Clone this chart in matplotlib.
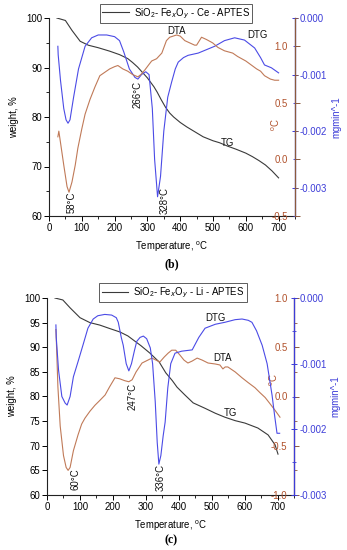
import matplotlib
matplotlib.use("Agg")
import matplotlib.pyplot as plt
from matplotlib.ticker import MultipleLocator

# ---------------- data: panel (b) ----------------
b_tg_T = [24, 50, 70, 95, 120, 150, 185, 215, 240, 255, 270, 285, 300, 310, 320, 330, 342, 355, 368, 380, 400, 420, 445, 470, 500, 520, 545, 570, 600, 620, 640, 660, 680, 700]
b_tg_w = [100, 99.5, 97.5, 95.3, 94.5, 94.0, 93.3, 92.6, 91.8, 91.0, 90.1, 89.0, 87.9, 87.0, 86.1, 85.0, 83.5, 82.0, 80.8, 80.0, 78.9, 78.0, 77.0, 76.0, 75.2, 74.8, 74.1, 73.5, 72.7, 72.0, 71.2, 70.3, 69.1, 67.7]
b_dtg_T = [27, 28, 35, 45, 52, 58, 64, 75, 90, 110, 130, 150, 176, 200, 215, 228, 245, 262, 271, 282, 295, 305, 315, 322, 331, 340, 350, 362, 374, 385, 394, 410, 424, 455, 480, 505, 535, 566, 596, 627, 645, 657, 678, 700]
b_dtg_g = [-0.0005, -0.00065, -0.0011, -0.0016, -0.0018, -0.00186, -0.0018, -0.0014, -0.0009, -0.0005, -0.00035, -0.0003, -0.0003, -0.00033, -0.0004, -0.0006, -0.0009, -0.00105, -0.00108, -0.001, -0.00095, -0.001, -0.0016, -0.0025, -0.00316, -0.0028, -0.002, -0.0014, -0.00113, -0.0009, -0.00078, -0.0007, -0.00066, -0.00062, -0.00056, -0.0005, -0.0004, -0.00035, -0.00039, -0.00053, -0.0007, -0.00083, -0.00088, -0.00097]
b_dta_T = [27, 30, 35, 45, 55, 61, 70, 80, 88, 100, 110, 125, 140, 155, 170, 185, 200, 210, 225, 240, 255, 271, 280, 292, 305, 313, 328, 344, 358, 368, 389, 400, 414, 429, 444, 450, 465, 480, 499, 515, 535, 560, 575, 600, 633, 645, 657, 675, 688, 700]
b_dta_d = [0.2, 0.25, 0.15, -0.05, -0.24, -0.29, -0.2, -0.05, 0.1, 0.27, 0.4, 0.53, 0.64, 0.74, 0.77, 0.80, 0.82, 0.83, 0.80, 0.78, 0.75, 0.73, 0.75, 0.79, 0.84, 0.87, 0.89, 0.94, 1.05, 1.08, 1.10, 1.09, 1.05, 1.03, 1.01, 1.01, 1.08, 1.06, 1.03, 0.99, 0.96, 0.94, 0.91, 0.87, 0.80, 0.78, 0.74, 0.71, 0.70, 0.70]

# ---------------- data: panel (c) ----------------
c_tg_T = [24, 48, 70, 100, 130, 160, 190, 221, 245, 261, 285, 312, 340, 360, 380, 394, 418, 443, 479, 510, 539, 570, 600, 639, 670, 691, 700]
c_tg_w = [100, 99.6, 98.0, 96.0, 95.0, 94.5, 93.8, 93.1, 92.3, 91.5, 90.3, 88.8, 87.0, 84.8, 83.2, 81.9, 80.3, 78.7, 77.6, 76.6, 75.8, 75.1, 74.6, 73.6, 72.2, 70.2, 68.3]
c_dtg_T = [27, 28, 35, 45, 55, 61, 70, 80, 94, 110, 124, 140, 154, 175, 196, 210, 216, 225, 231, 240, 248, 256, 265, 272, 282, 292, 302, 313, 320, 328, 334, 339, 345, 352, 358, 366, 375, 388, 408, 440, 460, 479, 510, 539, 570, 591, 610, 621, 635, 652, 667, 682, 690, 697, 705]
c_dtg_g = [-0.00041, -0.0006, -0.0011, -0.0015, -0.0016, -0.00163, -0.0015, -0.0012, -0.00097, -0.0007, -0.00046, -0.00032, -0.00027, -0.00025, -0.00026, -0.0003, -0.00037, -0.0006, -0.00072, -0.001, -0.00111, -0.001, -0.0008, -0.00066, -0.0006, -0.00058, -0.00062, -0.00076, -0.001, -0.00158, -0.0022, -0.00253, -0.0024, -0.0021, -0.00189, -0.00137, -0.001, -0.00084, -0.00081, -0.00079, -0.0006, -0.00046, -0.0004, -0.00037, -0.00033, -0.00032, -0.00034, -0.00037, -0.0005, -0.00072, -0.001, -0.00148, -0.0018, -0.00206, -0.00206]
c_dta_T = [27, 29, 33, 40, 50, 58, 64, 70, 80, 94, 105, 115, 130, 145, 160, 176, 190, 206, 220, 236, 248, 258, 270, 288, 300, 318, 330, 342, 355, 367, 378, 390, 403, 415, 427, 440, 455, 470, 488, 510, 524, 533, 540, 548, 570, 591, 610, 630, 645, 661, 675, 691, 706]
c_dta_d = [0.68, 0.5, 0.1, -0.3, -0.6, -0.72, -0.75, -0.72, -0.55, -0.39, -0.28, -0.22, -0.15, -0.09, -0.04, 0.015, 0.1, 0.19, 0.18, 0.16, 0.15, 0.17, 0.25, 0.34, 0.36, 0.39, 0.37, 0.35, 0.40, 0.44, 0.47, 0.47, 0.42, 0.37, 0.34, 0.36, 0.39, 0.37, 0.34, 0.33, 0.32, 0.28, 0.30, 0.30, 0.25, 0.19, 0.14, 0.09, 0.04, -0.01, -0.07, -0.14, -0.21]

TG_C = "#3a3a3a"
DTA_C = "#c07a58"
DTA_AX = "#8b5a3c"
DTA_TXT = "#b0502a"
DTG_C = "#4b4be6"
DTG_AX = "#3c3cd8"
FS = 6.9

plt.rcParams['font.family'] = ['Liberation Sans', 'DejaVu Sans']
plt.rcParams['mathtext.fontset'] = 'custom'
plt.rcParams['mathtext.rm'] = 'Liberation Sans'

fig = plt.figure(figsize=(3.47, 5.5), dpi=100)


def panel(rect, tgT, tgW, dtaT, dtaD, dtgT, dtgG, legend_text, left_major, left_minor,
          dta_lim, dtg_lim, dtg_minor, top_spine_col, caption, cap_y, leg_x, leg_y,
          degc_xy, labels, peaks):
    ax = fig.add_axes(rect)
    ax_dta = ax.twinx()
    ax_dtg = ax.twinx()

    ln, = ax.plot(tgT, tgW, color=TG_C, lw=0.8)
    ax_dta.plot(dtaT, dtaD, color=DTA_C, lw=0.8)
    ax_dtg.plot(dtgT, dtgG, color=DTG_C, lw=0.8)

    ax.set_xlim(0, 750)
    ax.set_ylim(60, 100)
    ax.xaxis.set_major_locator(MultipleLocator(100))
    ax.xaxis.set_minor_locator(MultipleLocator(50))
    ax.yaxis.set_major_locator(MultipleLocator(left_major))
    if left_minor:
        ax.yaxis.set_minor_locator(MultipleLocator(left_minor))
    ax.tick_params(axis='both', which='major', direction='out', length=3.5, width=0.7,
                   labelsize=FS, pad=1.5)
    ax.tick_params(axis='both', which='minor', direction='out', length=2, width=0.6)
    ax.spines['top'].set_visible(False)
    ax.spines['right'].set_visible(False)
    for s in ('left', 'bottom'):
        ax.spines[s].set_linewidth(0.8)
        ax.spines[s].set_color('#222222')
    ax.set_xlabel("Temperature, $^{\\rm o}$C", fontsize=FS, labelpad=5)
    ax.set_ylabel("weight, %", fontsize=FS, labelpad=5)

    # DTA axis: spine at right, ticks inward-facing from a "left" spine placed at x=1
    ax_dta.set_ylim(*dta_lim)
    ax_dta.yaxis.set_major_locator(MultipleLocator(0.5))
    ax_dta.yaxis.set_minor_locator(MultipleLocator(0.25))
    ax_dta.spines['left'].set_position(('axes', 1.0))
    ax_dta.yaxis.set_ticks_position('left')
    ax_dta.yaxis.set_label_position('left')
    for s in ('top', 'bottom', 'right'):
        ax_dta.spines[s].set_visible(False)
    ax_dta.spines['left'].set_color(DTA_AX)
    ax_dta.spines['left'].set_linewidth(0.9)
    ax_dta.tick_params(axis='y', which='major', direction='in', length=3.5, width=0.7,
                       colors=DTA_AX, labelcolor=DTA_TXT, labelsize=FS, pad=5)
    ax_dta.tick_params(axis='y', which='minor', direction='in', length=2, width=0.6,
                       colors=DTA_AX)
    ax_dta.yaxis.set_major_formatter(matplotlib.ticker.FormatStrFormatter('%.1f'))
    ax_dta.set_ylabel("$^{\\rm o}$C", fontsize=FS, color=DTA_TXT)
    ax_dta.yaxis.set_label_coords(*degc_xy)

    # DTG axis
    ax_dtg.set_ylim(*dtg_lim)
    ax_dtg.yaxis.set_major_locator(MultipleLocator(0.001))
    ax_dtg.yaxis.set_minor_locator(MultipleLocator(dtg_minor))
    for s in ('top', 'bottom', 'left'):
        ax_dtg.spines[s].set_visible(False)
    ax_dtg.spines['right'].set_color(DTG_AX)
    ax_dtg.spines['right'].set_linewidth(0.9)
    ax_dtg.tick_params(axis='y', which='major', direction='inout', length=5, width=0.7,
                       colors=DTG_AX, labelcolor=DTG_AX, labelsize=FS, pad=1)
    ax_dtg.tick_params(axis='y', which='minor', direction='inout', length=3, width=0.6,
                       colors=DTG_AX)
    ax_dtg.yaxis.set_major_formatter(matplotlib.ticker.FormatStrFormatter('%.3f'))
    ax_dtg.set_ylabel("mgmin^-1", fontsize=FS, color=DTG_AX, labelpad=3)
    if top_spine_col == 'dta':
        ax_dta.set_zorder(ax_dtg.get_zorder() + 1)
        ax_dta.patch.set_visible(False)

    leg = ax.legend([ln], [legend_text], loc='upper center', bbox_to_anchor=(leg_x, leg_y),
                    fontsize=FS, frameon=True, fancybox=False, handlelength=2.8,
                    borderpad=0.25, handletextpad=0.5, borderaxespad=0)
    leg.get_frame().set_edgecolor('#333333')
    leg.get_frame().set_linewidth(0.7)

    for (tx, ty, s) in labels:
        ax.text(tx, ty, s, fontsize=FS, color='#111111', ha='center', va='center')
    for (tx, ty, s) in peaks:
        ax.text(tx, ty, s, fontsize=FS, color='#111111', ha='center', va='center', rotation=90)

    ax.text(0.5, cap_y, caption, transform=ax.transAxes, ha='center', va='center',
            fontsize=8.5, fontweight='bold', family=['Liberation Serif', 'DejaVu Serif'])
    return ax


panel([49 / 347, 1 - 216 / 550, 246 / 347, 198 / 550], b_tg_T, b_tg_w, b_dta_T, b_dta_d,
      b_dtg_T, b_dtg_g, "SiO$_2$- Fe$_x$O$_y$ - Ce - APTES", 10, 5,
      (-0.5, 1.25), (-0.0035, 0.0), 0.0005, 'dta', "(b)", -0.245, 0.516, 1.072,
      (0.947, 0.46),
      [(390, 97.3, "DTA"), (635, 96.6, "DTG"), (544, 74.7, "TG")],
      [(270, 84.6, "266°C"), (70, 62.7, "58°C"), (354, 63.2, "328°C")])

panel([47 / 347, 1 - 495 / 550, 247.5 / 347, 197 / 550], c_tg_T, c_tg_w, c_dta_T, c_dta_d,
      c_dtg_T, c_dtg_g, "SiO$_2$- Fe$_x$O$_y$ - Li - APTES", 5, None,
      (-1.0, 1.0), (-0.003, 0.0), 0.0005, 'dtg', "(c)", -0.228, 0.509, 1.076,
      (0.94, 0.585),
      [(509, 95.9, "DTG"), (533, 87.8, "DTA"), (555, 76.6, "TG")],
      [(258, 80.0, "247°C"), (85, 63.3, "60°C"), (343, 63.5, "336°C")])

fig.savefig("out.png", dpi=100)
